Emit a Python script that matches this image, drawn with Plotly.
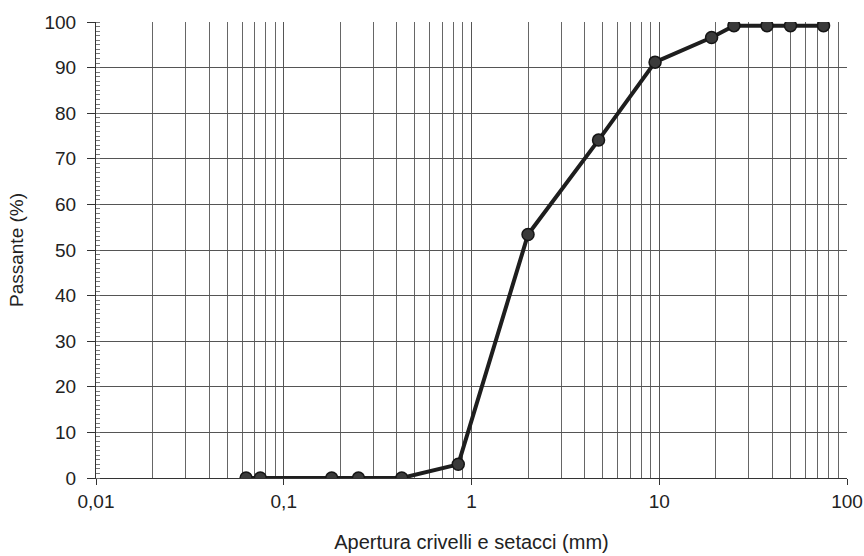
import plotly.graph_objects as go

# Sieve openings (mm) and percentage passing
apertura_mm = [0.063, 0.075, 0.18, 0.25, 0.425, 0.85, 2, 4.75, 9.5, 19, 25, 37.5, 50, 75]
passante_pct = [0, 0, 0, 0, 0, 3, 53.4, 74.1, 91.2, 96.6, 99.2, 99.2, 99.2, 99.2]

x_tick_vals = [0.01, 0.1, 1, 10, 100]
x_tick_text = ["0,01", "0,1", "1", "10", "100"]
y_tick_vals = [0, 10, 20, 30, 40, 50, 60, 70, 80, 90, 100]

minor_x = [m * d for d in [0.01, 0.1, 1, 10] for m in range(2, 10)]

fig = go.Figure()
fig.add_trace(go.Scatter(
    x=apertura_mm, y=passante_pct, mode="lines+markers",
    line=dict(color="#1e1e1e", width=4),
    marker=dict(size=12, color="#3a3a3a", line=dict(color="#151515", width=1.5)),
    showlegend=False,
))

font = "Liberation Sans, Arial, sans-serif"
fig.update_layout(
    width=864, height=556,
    margin=dict(l=96, r=17, t=22, b=78),
    paper_bgcolor="white", plot_bgcolor="white",
    font=dict(family=font, size=19, color="#222"),
    xaxis=dict(
        type="log", range=[-2, 2], automargin=False,
        tickmode="array", tickvals=x_tick_vals, ticktext=x_tick_text,
        ticks="outside", ticklen=6, tickcolor="#333",
        showgrid=True, gridcolor="#555", gridwidth=1,
        showline=True, linecolor="#333", linewidth=1.2,
        minor=dict(tickmode="array", tickvals=minor_x, showgrid=True,
                   gridcolor="#666", gridwidth=1, ticks=""),
        title=dict(text="Apertura crivelli e setacci (mm)", font=dict(size=20), standoff=24),
        zeroline=False,
    ),
    yaxis=dict(
        range=[0, 100], automargin=False,
        tickmode="array", tickvals=y_tick_vals,
        ticks="outside", ticklen=8, tickcolor="#333", ticklabelstandoff=7,
        showgrid=True, gridcolor="#555", gridwidth=1,
        showline=True, linecolor="#333", linewidth=1.2,
        minor=dict(dtick=1, ticks="inside", ticklen=4, tickcolor="#777", showgrid=False),
        title=dict(text="Passante (%)", font=dict(size=19), standoff=15),
        zeroline=False,
    ),
)

fig.write_html("out.html", config={"displayModeBar": False},
               post_script="document.body.style.margin='0';")
